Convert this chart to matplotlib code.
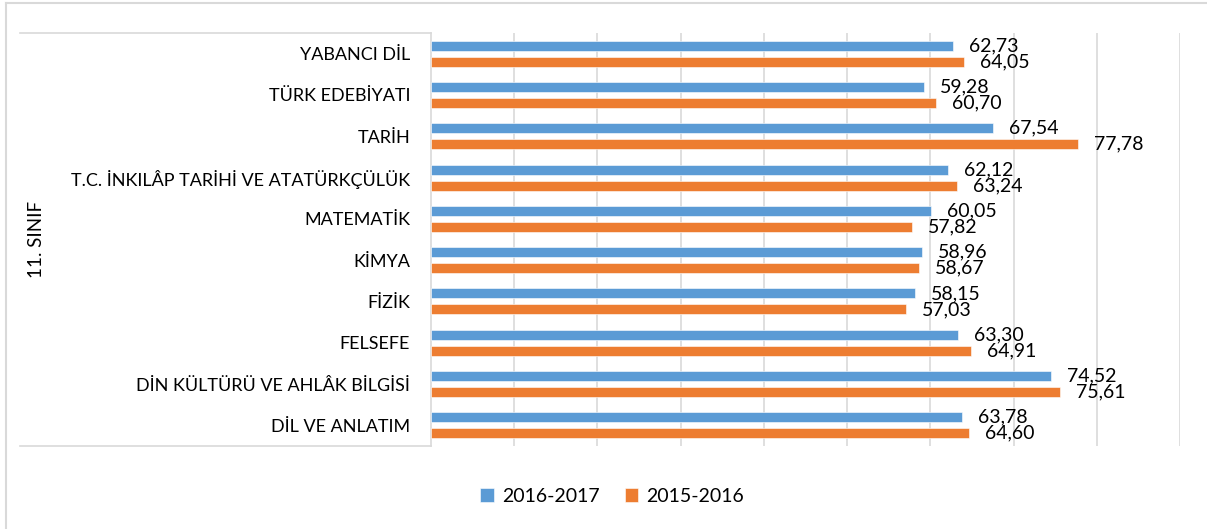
import numpy as np
import matplotlib
matplotlib.use("Agg")
from matplotlib import pyplot as plt
from matplotlib.lines import Line2D

plt.rcParams['font.family'] = ['Lato', 'DejaVu Sans']

# data, top to bottom as in the chart
dersler = ['YABANCI DİL', 'TÜRK EDEBİYATI', 'TARİH',
           'T.C. İNKILÂP TARİHİ VE ATATÜRKÇÜLÜK', 'MATEMATİK', 'KİMYA',
           'FİZİK', 'FELSEFE', 'DİN KÜLTÜRÜ VE AHLÂK BİLGİSİ', 'DİL VE ANLATIM']
y2016_2017 = [62.73, 59.28, 67.54, 62.12, 60.05, 58.96, 58.15, 63.30, 74.52, 63.78]
y2015_2016 = [64.05, 60.70, 77.78, 63.24, 57.82, 58.67, 57.03, 64.91, 75.61, 64.60]
seri_adlari = ['2016-2017', '2015-2016']
grup_adi = '11. SINIF'

W, H = 1207, 529
fig = plt.figure(figsize=(W / 100, H / 100), dpi=100)
ax = fig.add_axes([431 / W, 1 - 446 / H, (1180 - 431) / W, (446 - 33) / H])

grid_c = '#d9d9d9'
pos = np.arange(len(dersler))
h = 0.242
off = 0.194
b1 = ax.barh(pos - off, y2016_2017, height=h, color='#5B9BD5', edgecolor='white',
             linewidth=0.4, label=seri_adlari[0], zorder=3)
b2 = ax.barh(pos + off, y2015_2016, height=h, color='#ED7D31', edgecolor='white',
             linewidth=0.4, label=seri_adlari[1], zorder=3)

fmt = lambda v: f"{v:.2f}".replace('.', ',')
ax.bar_label(b1, labels=[fmt(v) for v in y2016_2017], padding=11.5, fontsize=14)
ax.bar_label(b2, labels=[fmt(v) for v in y2015_2016], padding=11.5, fontsize=14)

ax.set_xlim(0, 90)
ax.set_ylim(len(dersler) - 0.5, -0.5)
ax.set_xticks(np.arange(10, 91, 10))
ax.tick_params(axis='x', length=0, labelbottom=False)
ax.xaxis.grid(True, color=grid_c, linewidth=1.2, zorder=0)
ax.set_axisbelow(True)
ax.set_yticks(pos)
ax.set_yticklabels(dersler, fontsize=13)
ax.tick_params(axis='y', length=0, pad=15)
for s in ['top', 'right', 'bottom']:
    ax.spines[s].set_visible(False)
ax.spines['left'].set_color(grid_c)
ax.spines['left'].set_linewidth(1.2)

# category group box
for yy in [33, 446]:
    fig.add_artist(Line2D([20 / W, 431 / W], [1 - yy / H, 1 - yy / H],
                          transform=fig.transFigure, color=grid_c, linewidth=1.2))
fig.text(37 / W, 1 - 239 / H, grup_adi, rotation=90, ha='center', va='center',
         fontsize=13.5)

# outer chart border
fig.add_artist(Line2D([6 / W, 6 / W], [0, 1 - 3 / H], transform=fig.transFigure,
                      color=grid_c, linewidth=1.5))
fig.add_artist(Line2D([6 / W, 1], [1 - 3 / H, 1 - 3 / H], transform=fig.transFigure,
                      color=grid_c, linewidth=1.5))

fig.legend(handles=[b1, b2], loc='center', bbox_to_anchor=(612 / W, 1 - 496 / H),
           ncol=2, frameon=False, fontsize=14, handlelength=0.7, handleheight=0.7,
           handletextpad=0.4, columnspacing=1.3)

fig.savefig('out.png', dpi=100)
